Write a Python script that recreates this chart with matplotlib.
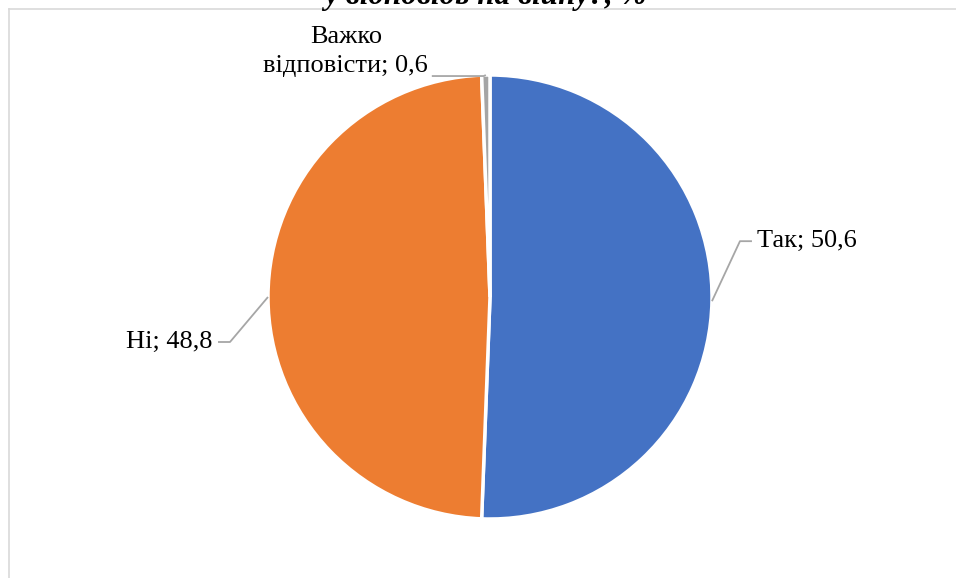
import numpy as np
import matplotlib
matplotlib.use("Agg")
from matplotlib import pyplot as plt

# Відповіді на питання, %
labels = ["Так", "Ні", "Важко\nвідповісти"]
values = [50.6, 48.8, 0.6]
colors = ["#4472C4", "#ED7D31", "#A5A5A5"]
titleText = "у відповідь на війну?, %"

W, H = 956, 578
fig = plt.figure(figsize=(W / 100, H / 100), dpi=100)
ax = fig.add_axes([0, 0, 1, 1])

cx, cy, r = 490, H - 297, 222
wedges, _ = ax.pie(values, colors=colors, startangle=90, counterclock=False,
                   center=(cx, cy), radius=r, frame=True,
                   wedgeprops=dict(edgecolor="white", linewidth=2.5))
ax.set_xlim(0, W)
ax.set_ylim(0, H)
ax.set_aspect("equal")
ax.axis("off")

font = dict(family=["Liberation Serif", "DejaVu Serif"], size=19, color="black")
lineColor = "#A6A6A6"

# leader lines from the wedge's mid-angle point on the rim
# (elbow dx, dy, horizontal run)
layout = [(28, 60, 12), (-38, -45, -12), (-2, -1, -52)]
for i, (w, lab, val, (ex, ey, hx)) in enumerate(zip(wedges, labels, values, layout)):
    ang = np.deg2rad((w.theta1 + w.theta2) / 2)
    x0, y0 = cx + r * np.cos(ang), cy + r * np.sin(ang)
    x1, y1 = x0 + ex, y0 + ey
    x2 = x1 + hx
    ax.plot([x0, x1, x2], [y0, y1, y1], color=lineColor, lw=1.3, solid_capstyle="butt")
    txt = f"{lab}; {str(val).replace('.', ',')}"
    if i == 2:
        ax.text(x2 - 86, y1 + 4, txt, ha="center", va="baseline", linespacing=1.42, **font)
    elif i == 0:
        ax.text(x2 + 5, y1, txt, ha="left", va="center", **font)
    else:
        ax.text(x2 - 5, y1, txt, ha="right", va="center", **font)

# frame lines of the chart area
fig.add_artist(plt.Line2D([9 / W, 1], [1 - 9 / H, 1 - 9 / H], transform=fig.transFigure, color="#D9D9D9", lw=1.2))
fig.add_artist(plt.Line2D([9 / W, 9 / W], [0, 1 - 9 / H], transform=fig.transFigure, color="#D9D9D9", lw=1.2))

fig.text(485 / W, 1 - 4 / H, titleText, ha="center", va="baseline", fontsize=22.5,
         fontweight="bold", fontstyle="italic", family=["Liberation Serif", "DejaVu Serif"])

fig.savefig("out.png", dpi=100)
